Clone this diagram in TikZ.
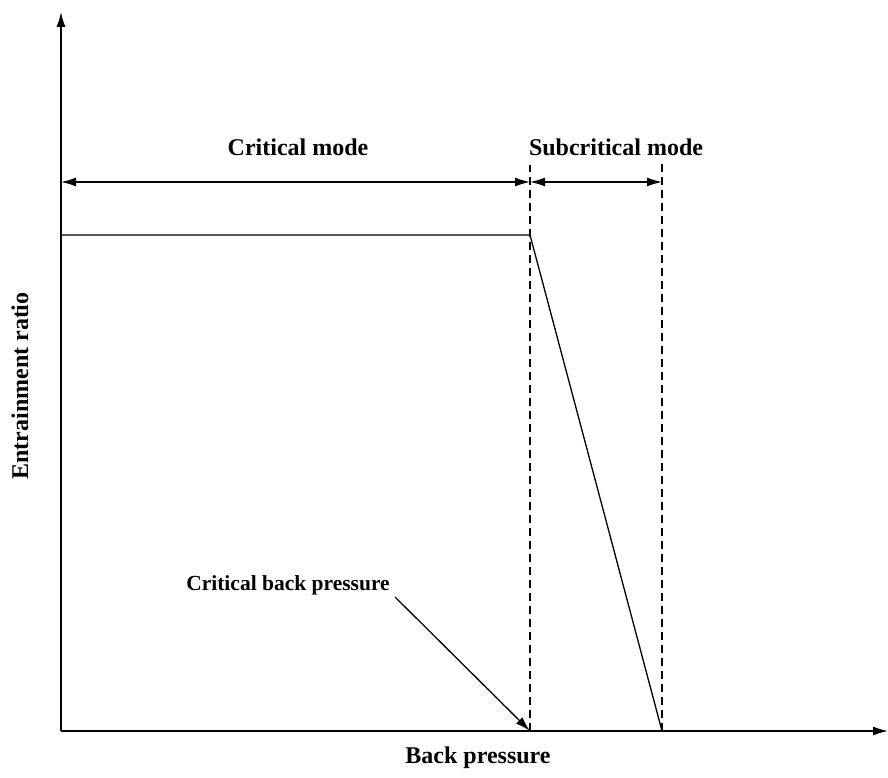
\documentclass[tikz,border=0pt]{standalone}
\usepackage{fontspec}
\setmainfont{Liberation Serif}
\usetikzlibrary{arrows.meta}
\begin{document}
\begin{tikzpicture}[x=1pt,y=1pt,line width=1.3pt,
		>={Latex[length=15pt,width=9pt]},
		lbl/.style={font=\fontsize{24}{28}\selectfont\bfseries,inner sep=0pt},
		guide/.style={dashed,dash pattern=on 8pt off 5pt}]
		\useasboundingbox (0,0) rectangle (888,778);
		\pgfmathsetmacro{\pc}{530}
		\pgfmathsetmacro{\ps}{662}
		\pgfmathsetmacro{\h}{543}
		\coordinate (O) at (61,47);
		\coordinate (xend) at (888,47);
		\coordinate (yend) at (61,766);
		\draw[->] (O)--(xend);
		\draw[->] (O)--(yend);
		\node[lbl] (xlab) at (478,20) {Back pressure};
		\node[lbl,rotate=90] (ylab) at (20,392) {Entrainment ratio};
		% mode boundaries
		\coordinate (crit) at (\pc,47);
		\coordinate (critTop) at (\pc,613);
		\coordinate (sub) at (\ps,47);
		\coordinate (subTop) at (\ps,618);
		\draw[guide] (crit)--(critTop);
		\draw[guide] (sub)--(subTop);
		% mode ranges
		\coordinate (rangeL) at (61,596);
		\coordinate (rangeC) at (\pc,596);
		\coordinate (rangeR) at (\ps,596);
		\draw[<->] (rangeL)--(rangeC);
		\draw[<->] (rangeC)--(rangeR);
		\node[lbl] (critmode) at (298,631) {Critical mode};
		\node[lbl] (submode) at (616,631) {Subcritical mode};
		% entrainment curve
		\coordinate (plateauL) at (61,\h);
		\coordinate (plateauR) at (\pc,\h);
		\draw (plateauL)--(plateauR)--(sub);
		\node[lbl,font=\fontsize{21.5}{25}\selectfont\bfseries] (cbp) at (288,193) {Critical back pressure};
		\coordinate (cbpTail) at (395,181);
		\draw[->] (cbpTail)--(crit);
	\end{tikzpicture}
\end{document}
